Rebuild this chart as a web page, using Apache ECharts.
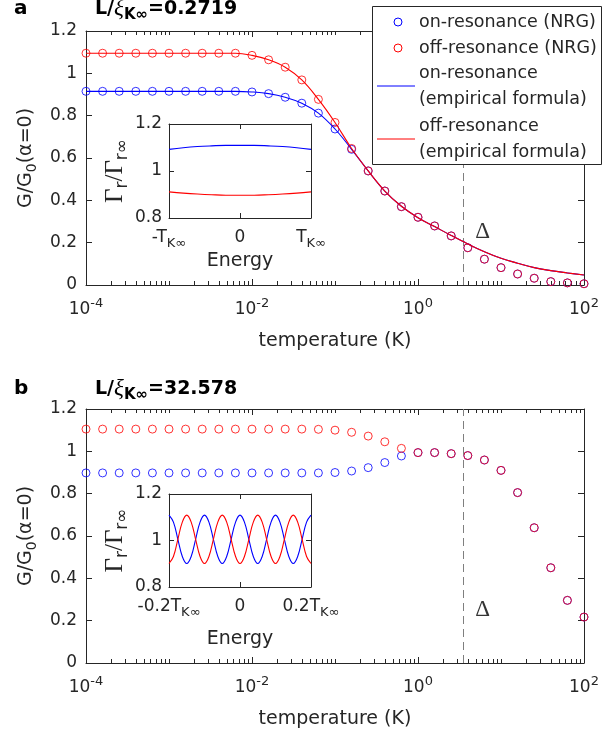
<!DOCTYPE html>
<html><head><meta charset="utf-8">
<script src="https://cdn.jsdelivr.net/npm/echarts@6/dist/echarts.min.js"></script>
<style>html,body{margin:0;padding:0;background:#fff}#c{width:603px;height:740px}</style>
</head><body><div id="c"></div>
<script>
// ---------------- data ----------------
const temps = [1e-4,1.585e-4,2.512e-4,3.981e-4,6.31e-4,1e-3,1.585e-3,2.512e-3,3.981e-3,6.31e-3,1e-2,1.585e-2,2.512e-2,3.981e-2,6.31e-2,0.1,0.1585,0.2512,0.3981,0.631,1,1.585,2.512,3.981,6.31,10,15.85,25.12,39.81,63.1,100];
const onNrgA  = [0.915,0.915,0.915,0.915,0.915,0.915,0.915,0.915,0.915,0.915,0.912,0.904,0.887,0.859,0.812,0.737,0.641,0.539,0.444,0.370,0.320,0.279,0.232,0.176,0.122,0.082,0.052,0.032,0.016,0.010,0.006];
const offNrgA = [1.095,1.095,1.095,1.095,1.095,1.095,1.095,1.095,1.095,1.095,1.085,1.064,1.029,0.969,0.877,0.768,0.645,0.539,0.444,0.370,0.320,0.279,0.232,0.176,0.122,0.082,0.052,0.032,0.016,0.010,0.006];
const onFitA  = [0.915,0.915,0.915,0.915,0.915,0.915,0.915,0.915,0.915,0.915,0.912,0.904,0.887,0.859,0.812,0.737,0.641,0.539,0.444,0.372,0.318,0.276,0.234,0.194,0.157,0.126,0.103,0.082,0.068,0.057,0.047];
const offFitA = [1.095,1.095,1.095,1.095,1.095,1.095,1.095,1.095,1.095,1.095,1.085,1.064,1.029,0.969,0.877,0.768,0.645,0.539,0.444,0.372,0.318,0.276,0.234,0.194,0.157,0.126,0.103,0.082,0.068,0.057,0.047];
const onNrgB  = [0.898,0.898,0.898,0.898,0.898,0.898,0.898,0.898,0.898,0.898,0.898,0.898,0.898,0.898,0.898,0.900,0.907,0.923,0.947,0.978,0.994,0.994,0.989,0.980,0.959,0.910,0.805,0.639,0.450,0.296,0.217];
const offNrgB = [1.105,1.105,1.105,1.105,1.105,1.105,1.105,1.105,1.105,1.105,1.105,1.105,1.105,1.105,1.104,1.100,1.090,1.072,1.045,1.014,0.994,0.994,0.989,0.980,0.959,0.910,0.805,0.639,0.450,0.296,0.217];
const deltaT = 3.5;
const deltaLabelPos = [6, 0.25];

const energyA = [-1,-0.8,-0.6,-0.4,-0.2,0,0.2,0.4,0.6,0.8,1];
const gammaOnA  = [1.092,1.099,1.104,1.107,1.109,1.109,1.109,1.107,1.104,1.099,1.092];
const gammaOffA = [0.911,0.906,0.902,0.899,0.897,0.897,0.897,0.899,0.902,0.906,0.911];

const energyB = [-0.2,-0.1875,-0.175,-0.1625,-0.15,-0.1375,-0.125,-0.1125,-0.1,-0.0875,-0.075,-0.0625,-0.05,-0.0375,-0.025,-0.0125,0,0.0125,0.025,0.0375,0.05,0.0625,0.075,0.0875,0.1,0.1125,0.125,0.1375,0.15,0.1625,0.175,0.1875,0.2];
const gammaOnB  = [1.109,1.079,1.005,0.931,0.901,0.931,1.005,1.079,1.109,1.079,1.005,0.931,0.901,0.931,1.005,1.079,1.109,1.079,1.005,0.931,0.901,0.931,1.005,1.079,1.109,1.079,1.005,0.931,0.901,0.931,1.005,1.079,1.109];
const gammaOffB = [0.901,0.931,1.005,1.079,1.109,1.079,1.005,0.931,0.901,0.931,1.005,1.079,1.109,1.079,1.005,0.931,0.901,0.931,1.005,1.079,1.109,1.079,1.005,0.931,0.901,0.931,1.005,1.079,1.109,1.079,1.005,0.931,0.901];

const xMajorTicks = [1e-4, 1e-2, 1, 100];
const yTickLabels = ['0','0.2','0.4','0.6','0.8','1','1.2'];
const insetXLabelsA = ['-T', '0', 'T'];
const insetXLabelsB = ['-0.2T', '0', '0.2T'];
const panelLetters = ['a', 'b'];
const panelRatios = ['0.2719', '32.578'];
const legendLabels = ['on-resonance (NRG)', 'off-resonance (NRG)', 'on-resonance', '(empirical formula)', 'off-resonance', '(empirical formula)'];

// ---------------- style ----------------
const FONT = '"DejaVu Sans", sans-serif';
const SERIF = '"Liberation Serif", "DejaVu Serif", serif';
const TXT = '#262626';
const AX = '#262626';
const BLUE = '#0000ff';
const RED = '#ff0000';
const FS = 17;
const NFS = 19;

const xMinorTicks = [];
for (let e = -4; e <= 1; e++) {
  for (let m = 2; m <= 9; m++) xMinorTicks.push(m * Math.pow(10, e));
  if ((e + 1) % 2 !== 0) xMinorTicks.push(Math.pow(10, e + 1));
}

const chart = echarts.init(document.getElementById('c'), null, {renderer: 'canvas'});

const tickRich = {
  b: {fontSize: FS, fontFamily: FONT, color: TXT, lineHeight: 22},
  s: {fontSize: 13, fontFamily: FONT, color: TXT, lineHeight: 13, padding: [0, 0, 12, 0]}
};
const subRich = {
  n: {fontSize: FS, fontFamily: FONT, color: TXT, lineHeight: 22},
  s: {fontSize: 13, fontFamily: FONT, color: TXT, lineHeight: 13, padding: [12, 0, 0, 0]}
};
const nameRich = {
  n: {fontSize: NFS, fontFamily: FONT, color: TXT, lineHeight: 22},
  s: {fontSize: 14, fontFamily: FONT, color: TXT, lineHeight: 14, padding: [12, 0, 0, 0]}
};
const gammaRich = {
  g: {fontSize: 25, fontFamily: SERIF, color: TXT, lineHeight: 26},
  s: {fontSize: 17, fontFamily: FONT, color: TXT, lineHeight: 17, padding: [14, 0, 0, 0]}
};

function logAxis(grid, pos, ticks, len, main) {
  return {
    type: 'log', logBase: 10, gridIndex: grid, position: pos, min: 1e-4, max: 100,
    axisLine: {show: main, onZero: false, lineStyle: {color: AX, width: 1}},
    axisTick: {show: true, inside: true, length: len, customValues: ticks, lineStyle: {color: AX, width: 1}},
    axisLabel: (main && pos === 'bottom') ? {
      show: true, customValues: xMajorTicks, margin: 14,
      formatter: v => '{b|10}{s|' + Math.round(Math.log10(v)) + '}', rich: tickRich
    } : {show: false},
    splitLine: {show: false}, minorTick: {show: false},
    name: (main && pos === 'bottom') ? 'temperature (K)' : '',
    nameLocation: 'middle', nameGap: 47,
    nameTextStyle: {fontSize: NFS, fontFamily: FONT, color: TXT},
    silent: true
  };
}
function mainY(grid, pos) {
  return {
    type: 'value', gridIndex: grid, position: pos, min: 0, max: 1.2, interval: 0.2,
    axisLine: {show: true, onZero: false, lineStyle: {color: AX, width: 1}},
    axisTick: {show: true, inside: true, length: 6, lineStyle: {color: AX, width: 1}},
    axisLabel: pos === 'left' ? {
      show: true, margin: 9, fontSize: FS, fontFamily: FONT, color: TXT,
      formatter: v => yTickLabels[Math.round(v / 0.2)]
    } : {show: false},
    splitLine: {show: false},
    name: pos === 'left' ? '{n|G/G}{s|0}{n|(α=0)}' : '',
    nameLocation: 'middle', nameRotate: 90, nameGap: 46,
    nameTextStyle: {rich: nameRich},
    silent: true
  };
}
function insetX(grid, pos, min, max, interval, labels, nameGap) {
  return {
    type: 'value', gridIndex: grid, position: pos, min: min, max: max, interval: interval,
    axisLine: {show: true, onZero: false, lineStyle: {color: AX, width: 1}},
    axisTick: {show: true, inside: true, length: 5, lineStyle: {color: AX, width: 1}},
    axisLabel: pos === 'bottom' ? {
      show: true, margin: 9, showMinLabel: true, showMaxLabel: true,
      formatter: v => {
        const i = Math.round((v - min) / interval);
        return labels[i] === '0' ? '{n|0}' : '{n|' + labels[i] + '}{s|K∞}';
      },
      rich: subRich
    } : {show: false},
    splitLine: {show: false},
    name: pos === 'bottom' ? 'Energy' : '',
    nameLocation: 'middle', nameGap: nameGap,
    nameTextStyle: {fontSize: NFS, fontFamily: FONT, color: TXT},
    silent: true
  };
}
function insetY(grid, pos) {
  return {
    type: 'value', gridIndex: grid, position: pos, min: 0.8, max: 1.2, interval: 0.2,
    axisLine: {show: true, onZero: false, lineStyle: {color: AX, width: 1}},
    axisTick: {show: true, inside: true, length: 5, lineStyle: {color: AX, width: 1}},
    axisLabel: pos === 'left' ? {
      show: true, margin: 7, fontSize: FS, fontFamily: FONT, color: TXT,
      formatter: v => String(+v.toFixed(1))
    } : {show: false},
    splitLine: {show: false},
    name: pos === 'left' ? '{g|Γ}{s|r}{g|/Γ}{s|r∞}' : '',
    nameLocation: 'middle', nameRotate: 90, nameGap: 22,
    nameTextStyle: {rich: gammaRich},
    silent: true
  };
}

const xAxes = [];
for (let g = 0; g < 2; g++) {
  xAxes.push(logAxis(g, 'bottom', xMajorTicks, 6, true));
  xAxes.push(logAxis(g, 'bottom', xMinorTicks, 4, false));
  xAxes.push(logAxis(g, 'top', xMajorTicks, 6, true));
  xAxes.push(logAxis(g, 'top', xMinorTicks, 4, false));
}
xAxes.push(insetX(2, 'bottom', -1, 1, 1, insetXLabelsA, 21));
xAxes.push(insetX(2, 'top', -1, 1, 1, insetXLabelsA, 21));
xAxes.push(insetX(3, 'bottom', -0.2, 0.2, 0.2, insetXLabelsB, 43));
xAxes.push(insetX(3, 'top', -0.2, 0.2, 0.2, insetXLabelsB, 43));

const yAxes = [mainY(0, 'left'), mainY(0, 'right'), mainY(1, 'left'), mainY(1, 'right'),
  insetY(2, 'left'), insetY(2, 'right'), insetY(3, 'left'), insetY(3, 'right')];

function pairs(xs, ys) { return xs.map((x, i) => [x, ys[i]]); }
function circles(name, xi, yi, data, color, z) {
  return {
    type: 'scatter', name: name, xAxisIndex: xi, yAxisIndex: yi, data: data, z: z,
    symbol: 'circle', symbolSize: 8,
    itemStyle: {color: 'rgba(255,255,255,0)', borderColor: color, borderWidth: 1},
    silent: true, animation: false
  };
}
function fitLine(name, xi, yi, data, color, z) {
  return {
    type: 'line', name: name, xAxisIndex: xi, yAxisIndex: yi, data: data, z: z,
    showSymbol: false, smooth: 0.4, lineStyle: {color: color, width: 1.1},
    silent: true, animation: false
  };
}
function deltaMarks(xi, yi) {
  return {
    type: 'scatter', xAxisIndex: xi, yAxisIndex: yi, data: [deltaLabelPos], z: 6,
    symbol: 'circle', symbolSize: 1, itemStyle: {color: 'rgba(0,0,0,0)'},
    label: {show: true, position: 'inside', formatter: 'Δ', fontSize: 23, fontFamily: SERIF, color: '#000'},
    markLine: {
      silent: true, symbol: 'none', label: {show: false},
      lineStyle: {color: '#7f7f7f', width: 1, type: [8, 5]},
      data: [{xAxis: deltaT}], animation: false
    },
    silent: true, animation: false
  };
}

const series = [
  circles('on-resonance (NRG)', 0, 0, pairs(temps, onNrgA), BLUE, 3),
  circles('off-resonance (NRG)', 0, 0, pairs(temps, offNrgA), RED, 4),
  fitLine('on-fit', 0, 0, pairs(temps, onFitA), BLUE, 5),
  fitLine('off-fit', 0, 0, pairs(temps, offFitA), RED, 5),
  deltaMarks(0, 0),
  circles('on-resonance (NRG) b', 4, 2, pairs(temps, onNrgB), BLUE, 3),
  circles('off-resonance (NRG) b', 4, 2, pairs(temps, offNrgB), RED, 4),
  deltaMarks(4, 2),
  fitLine('gOnA', 8, 4, pairs(energyA, gammaOnA), BLUE, 5),
  fitLine('gOffA', 8, 4, pairs(energyA, gammaOffA), RED, 5),
  fitLine('gOnB', 10, 6, pairs(energyB, gammaOnB), BLUE, 5),
  fitLine('gOffB', 10, 6, pairs(energyB, gammaOffB), RED, 5)
];

const titleRich = {
  b: {fontSize: 19, fontWeight: 'bold', fontFamily: FONT, color: '#000', lineHeight: 24},
  x: {fontSize: 23, fontStyle: 'italic', fontFamily: SERIF, color: '#000', lineHeight: 24},
  s: {fontSize: 15, fontWeight: 'bold', fontFamily: FONT, color: '#000', lineHeight: 15, padding: [12, 0, 0, 0]}
};
const graphics = [];
const panelTop = [0, 380];
for (let p = 0; p < 2; p++) {
  graphics.push({type: 'text', x: 14, y: panelTop[p] + 9, z: 100,
    style: {text: panelLetters[p], font: 'bold 20px ' + FONT, fill: '#000', verticalAlign: 'middle'}});
  graphics.push({type: 'text', x: 95, y: panelTop[p] + 9, z: 100,
    style: {text: '{b|L/}{x|ξ}{s|K∞}{b|=' + panelRatios[p] + '}', rich: titleRich, verticalAlign: 'middle'}});
}
// legend box
const lgTxt = (t, x, y) => ({type: 'text', x: x, y: y, z: 101,
  style: {text: t, font: '17.5px ' + FONT, fill: TXT, verticalAlign: 'middle', align: 'left'}});
graphics.push({type: 'rect', z: 100, shape: {x: 372.5, y: 6.5, width: 229, height: 158},
  style: {fill: '#fff', stroke: AX, lineWidth: 1}});
graphics.push({type: 'circle', z: 101, shape: {cx: 398, cy: 22, r: 4}, style: {fill: 'none', stroke: BLUE, lineWidth: 1}});
graphics.push(lgTxt(legendLabels[0], 419, 22));
graphics.push({type: 'circle', z: 101, shape: {cx: 398, cy: 48, r: 4}, style: {fill: 'none', stroke: RED, lineWidth: 1}});
graphics.push(lgTxt(legendLabels[1], 419, 48));
graphics.push({type: 'line', z: 101, shape: {x1: 377, y1: 86, x2: 415, y2: 86}, style: {stroke: BLUE, lineWidth: 1}});
graphics.push(lgTxt(legendLabels[2], 419, 73));
graphics.push(lgTxt(legendLabels[3], 419, 99));
graphics.push({type: 'line', z: 101, shape: {x1: 377, y1: 139, x2: 415, y2: 139}, style: {stroke: RED, lineWidth: 1}});
graphics.push(lgTxt(legendLabels[4], 419, 126));
graphics.push(lgTxt(legendLabels[5], 419, 152));

chart.setOption({
  animation: false,
  backgroundColor: '#fff',
  grid: [
    {left: 86, top: 31, width: 498, height: 254, outerBoundsMode: 'none'},
    {left: 86, top: 409, width: 498, height: 254, outerBoundsMode: 'none'},
    {left: 169, top: 124, width: 142, height: 94, show: true, backgroundColor: '#fff', borderWidth: 0, outerBoundsMode: 'none'},
    {left: 169, top: 494, width: 142, height: 93, show: true, backgroundColor: '#fff', borderWidth: 0, outerBoundsMode: 'none'}
  ],
  xAxis: xAxes,
  yAxis: yAxes,
  series: series,
  graphic: graphics
});
</script></body></html>
